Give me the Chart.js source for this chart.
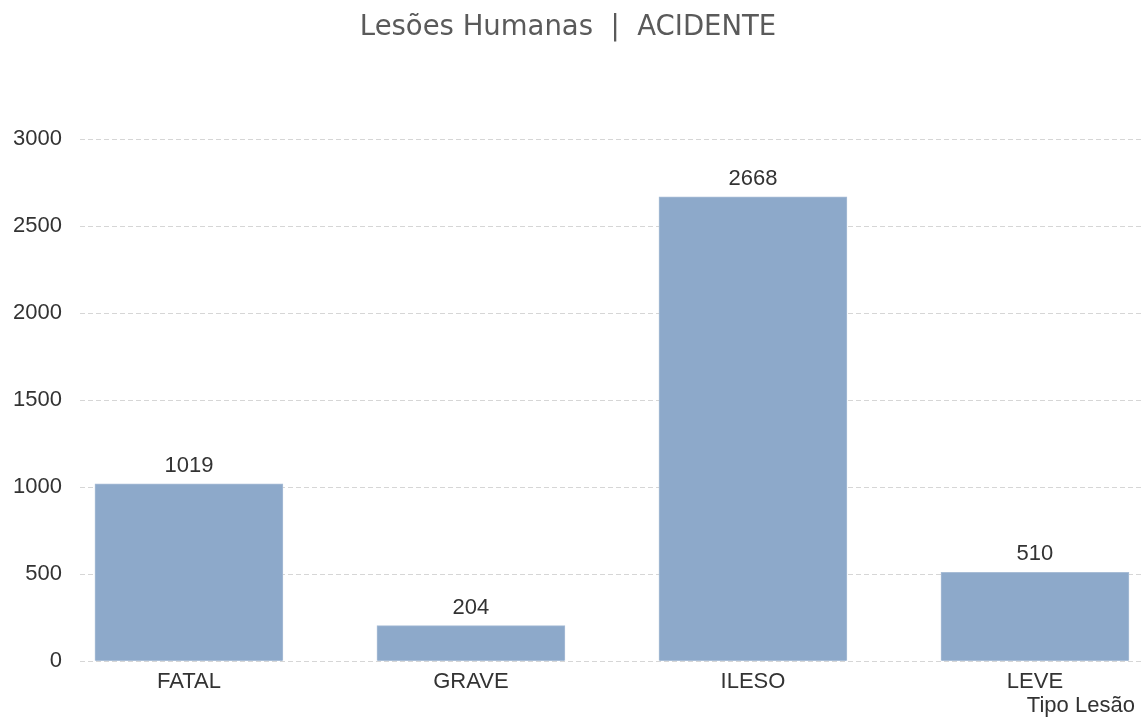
<!DOCTYPE html>
<html>
<head>
<meta charset="utf-8">
<script src="https://cdn.jsdelivr.net/npm/chart.js@4.4.1/dist/chart.umd.min.js"></script>
<style>
  body { margin: 0; background: #fff; }
  canvas { display: block; }
</style>
</head>
<body>
<canvas id="lesoes_chart" width="1141" height="720"></canvas>
<script>
// data
var categories = ['FATAL', 'GRAVE', 'ILESO', 'LEVE'];
var lesoes = [1019, 204, 2668, 510];
var yTicks = [0, 500, 1000, 1500, 2000, 2500, 3000];

var points = [];
for (var i in categories) {
	points.push({ x: Number(i), y: lesoes[i] });
}

// numbers on top of the bars
var valueLabels = {
	id: 'valueLabels',
	afterDatasetsDraw: function(chart) {
		var ctx = chart.ctx;
		var meta = chart.getDatasetMeta(0);
		ctx.save();
		ctx.font = '22px "Liberation Sans", Arial, sans-serif';
		ctx.fillStyle = '#333';
		ctx.textAlign = 'center';
		ctx.textBaseline = 'bottom';
		meta.data.forEach(function(bar, idx) {
			ctx.fillText(lesoes[idx], bar.x, bar.y - 7);
		});
		ctx.restore();
	}
};

var ctx = document.getElementById('lesoes_chart');

var barGraph = new Chart(ctx, {
	type: 'bar',
	data: {
		datasets: [{
			data: points,
			backgroundColor: '#8da9ca',
			borderColor: '#a8bdd6',
			borderWidth: 1,
			barThickness: 188
		}]
	},
	options: {
		responsive: false,
		animation: false,
		layout: { padding: { left: -5, right: 0, top: 0, bottom: 0 } },
		plugins: {
			legend: { display: false },
			tooltip: { enabled: false },
			title: {
				display: true,
				text: 'Lesões Humanas  |  ACIDENTE',
				color: '#5a5a5a',
				font: { family: '"DejaVu Sans", Verdana, sans-serif', size: 27.5, weight: 'normal' },
				padding: { top: 11, bottom: 95 }
			}
		},
		scales: {
			x: {
				type: 'linear',
				offset: false,
				min: -0.3865,
				max: 3.376,
				afterBuildTicks: function(scale) {
					scale.ticks = categories.map(function(c, i) { return { value: i }; });
				},
				ticks: {
					autoSkip: false,
					maxRotation: 0,
					padding: 0,
					color: '#333',
					font: { family: '"Liberation Sans", Arial, sans-serif', size: 22 },
					callback: function(value) { return categories[value]; }
				},
				grid: { display: false },
				border: { display: false },
				title: {
					display: true,
					text: 'Tipo Lesão ',
					align: 'end',
					color: '#333',
					font: { family: '"Liberation Sans", Arial, sans-serif', size: 22 },
					padding: { top: -3, bottom: 1 }
				}
			},
			y: {
				min: 0,
				max: 3000,
				afterBuildTicks: function(scale) {
					scale.ticks = yTicks.map(function(v) { return { value: v }; });
				},
				ticks: {
					padding: 18,
					color: '#333',
					font: { family: '"Liberation Sans", Arial, sans-serif', size: 22 },
					callback: function(value) { return String(value); }
				},
				grid: {
					color: '#d6d6d6',
					lineWidth: 1,
					drawTicks: false
				},
				border: { display: false, dash: [5, 3] }
			}
		}
	},
	plugins: [valueLabels]
});
</script>
</body>
</html>
